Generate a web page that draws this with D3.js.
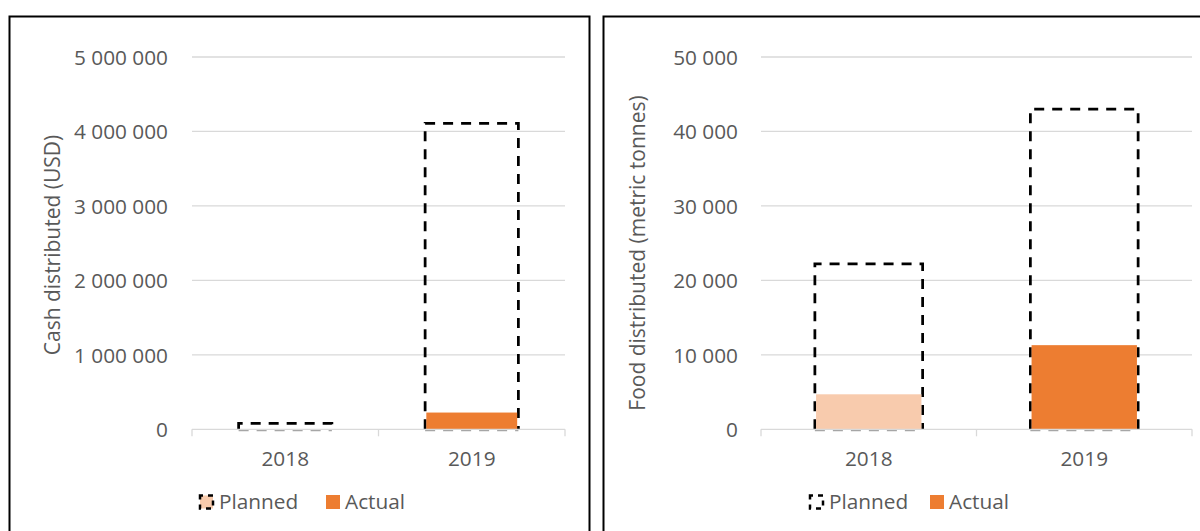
<!DOCTYPE html>
<html>
<head>
<meta charset="utf-8">
<script src="https://cdn.jsdelivr.net/npm/d3@7"></script>
<style>
  html, body { margin: 0; padding: 0; background: #fff; }
  svg { display: block; font-family: "Open Sans", sans-serif; }
</style>
</head>
<body>
<svg id="chart" width="1200" height="531"></svg>
<script>
// ---- Data ----
const categories = ["2018", "2019"];
const cashPlanned = [80000, 4110000];
const cashActual = [0, 225000];
const cashTicks = [0, 1000000, 2000000, 3000000, 4000000, 5000000];
const foodPlanned = [22200, 43000];
const foodActual = [4700, 11300];
const foodTicks = [0, 10000, 20000, 30000, 40000, 50000];
const actualColors = ["#F8CBAD", "#ED7D31"];
const legendLabels = ["Planned", "Actual"];
const cashTitle = "Cash distributed (USD)";
const foodTitle = "Food distributed (metric tonnes)";

const svg = d3.select("#chart");
const fmt = v => d3.format(",")(v).replace(/,/g, "\u00a0");
const textColor = "#595959";
const gridColor = "#d9d9d9";
const fs = "20.8px";

function panel(cfg) {
  const g = svg.append("g");
  // frame
  g.append("rect")
    .attr("x", cfg.frame[0]).attr("y", cfg.frame[1])
    .attr("width", cfg.frame[2]).attr("height", cfg.frame[3])
    .attr("fill", "none").attr("stroke", "#000").attr("stroke-width", 2);

  const x = d3.scaleBand().domain(categories).range([cfg.x0, cfg.x1])
    .paddingInner(0.5).paddingOuter(0.25);
  const y = d3.scaleLinear().domain([0, cfg.max]).range([cfg.y0, cfg.y1]);

  // gridlines
  g.append("g").selectAll("line").data(cfg.ticks.filter(t => t > 0)).join("line")
    .attr("x1", cfg.x0).attr("x2", cfg.x1)
    .attr("y1", d => y(d)).attr("y2", d => y(d))
    .attr("stroke", gridColor).attr("stroke-width", 1.3);

  // y tick labels
  const yAxis = d3.axisLeft(y).tickValues(cfg.ticks).tickFormat(fmt).tickSize(0).tickPadding(0);
  const ya = g.append("g").attr("transform", `translate(${cfg.labelRight},0)`).call(yAxis);
  ya.select(".domain").remove();
  ya.selectAll("text").attr("fill", textColor).style("font-size", fs)
    .style("font-family", "'Open Sans', sans-serif").attr("dy", "0.35em");

  // planned bars (dashed outline, 3 sides)
  const bw = x.bandwidth();
  g.append("g").selectAll("path").data(cfg.planned).join("path")
    .attr("d", (d, i) => {
      const xl = x(categories[i]), xr = xl + bw, yt = y(d), yb = y(0);
      return `M${xl},${yb} L${xl},${yt} L${xr},${yt} L${xr},${yb}`;
    })
    .attr("fill", "none").attr("stroke", "#000").attr("stroke-width", 2.75)
    .attr("stroke-dasharray", "10,8");
  g.append("g").selectAll("line").data(cfg.planned).join("line")
    .attr("x1", (d, i) => x(categories[i])).attr("x2", (d, i) => x(categories[i]) + bw)
    .attr("y1", y(0) + 1).attr("y2", y(0) + 1)
    .attr("stroke", "#a6a6a6").attr("stroke-width", 2).attr("stroke-dasharray", "10,8");

  // actual bars
  g.append("g").selectAll("rect").data(cfg.actual).join("rect")
    .attr("x", (d, i) => x(categories[i]) + 1.2)
    .attr("width", bw - 2.4)
    .attr("y", d => y(d))
    .attr("height", d => y(0) - y(d))
    .attr("fill", (d, i) => actualColors[i]);

  // x axis
  const xAxis = d3.axisBottom(x).tickSize(0).tickPadding(0);
  const xa = g.append("g").attr("transform", `translate(0,${cfg.y0})`).call(xAxis);
  xa.select(".domain").remove();
  xa.selectAll("text").attr("fill", textColor).style("font-size", fs)
    .style("font-family", "'Open Sans', sans-serif").attr("y", 22).attr("dy", "0.71em");
  g.append("line").attr("x1", cfg.x0).attr("x2", cfg.x1)
    .attr("y1", cfg.y0).attr("y2", cfg.y0).attr("stroke", gridColor).attr("stroke-width", 1.3);
  const step = x.step();
  const bounds = d3.range(categories.length + 1).map(i => cfg.x0 + i * step);
  g.append("g").selectAll("line").data(bounds).join("line")
    .attr("x1", d => d).attr("x2", d => d)
    .attr("y1", cfg.y0).attr("y2", cfg.y0 + 7)
    .attr("stroke", gridColor).attr("stroke-width", 1.3);

  // y title
  g.append("text")
    .attr("transform", `translate(${cfg.titleX},${cfg.titleY}) rotate(-90)`)
    .attr("text-anchor", "middle").attr("dy", "0.35em")
    .attr("fill", textColor).style("font-size", "21px")
    .text(cfg.title);

  // legend
  const lg = g.append("g");
  const ps = cfg.legPlanned;
  lg.append("rect").attr("x", ps[0]).attr("y", 495.5).attr("width", 13).attr("height", 13)
    .attr("fill", cfg.legendPlannedFill).attr("stroke", "#000").attr("stroke-width", 2.5)
    .attr("stroke-dasharray", "5,5").attr("stroke-dashoffset", 2);
  lg.append("text").attr("x", ps[1]).attr("y", 509).attr("fill", textColor)
    .style("font-size", fs).text(legendLabels[0]);
  const as = cfg.legActual;
  lg.append("rect").attr("x", as[0]).attr("y", 495).attr("width", 14).attr("height", 14)
    .attr("fill", actualColors[1]);
  lg.append("text").attr("x", as[1]).attr("y", 509).attr("fill", textColor)
    .style("font-size", fs).text(legendLabels[1]);
}

panel({
  frame: [9.5, 16.5, 580, 540],
  x0: 192, x1: 565, y0: 429.3, y1: 57, max: 5000000,
  ticks: cashTicks, planned: cashPlanned, actual: cashActual,
  labelRight: 168, title: cashTitle, titleX: 53, titleY: 245,
  legPlanned: [200, 219], legActual: [326, 345], legendPlannedFill: "#F8CBAD"
});
panel({
  frame: [603.5, 16.5, 620, 540],
  x0: 761, x1: 1192, y0: 429.3, y1: 57, max: 50000,
  ticks: foodTicks, planned: foodPlanned, actual: foodActual,
  labelRight: 738, title: foodTitle, titleX: 638, titleY: 253,
  legPlanned: [810, 829], legActual: [930, 949], legendPlannedFill: "#fff"
});
</script>
</body>
</html>
